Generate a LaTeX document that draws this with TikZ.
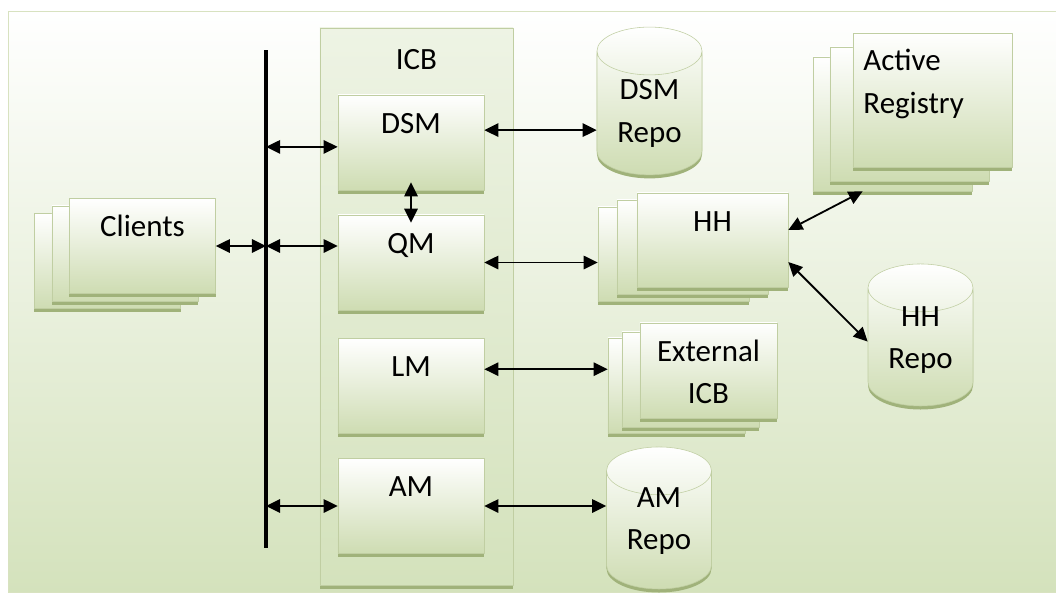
\documentclass[tikz,border=0pt]{standalone}
\usepackage{fontspec}
\setmainfont{Carlito}
\usetikzlibrary{arrows.meta,shadows,shapes.geometric}

\definecolor{boxgreen}{RGB}{206,220,178}
\definecolor{boxline}{RGB}{192,206,162}
\definecolor{shadegreen}{RGB}{160,178,122}
\definecolor{bggreen}{RGB}{212,226,188}
\definecolor{frameline}{RGB}{216,226,192}

\begin{document}
\begin{tikzpicture}[x=0.025cm, y=-0.025cm, line join=round, >={Triangle[length=10pt,width=9.5pt]},
    font=\fontsize{22pt}{30pt}\selectfont,
    module/.style={draw=boxline, top color=white, bottom color=boxgreen,
      minimum width=3.65cm, minimum height=2.375cm, inner ysep=0pt,
      text height=0.95cm, text depth=1.425cm,
      drop shadow={shadow xshift=0pt, shadow yshift=-2.5pt, fill=shadegreen, opacity=1}},
    repo/.style={cylinder, shape border rotate=90, aspect=0.65, draw=boxline,
      top color=white, bottom color=boxgreen, minimum width=2.625cm, minimum height=3.55cm,
      align=center, text depth=0.35cm,
      drop shadow={shadow xshift=0pt, shadow yshift=-2.5pt, fill=shadegreen, opacity=1}},
    conn/.style={<->, line width=1.3pt},
    bus/.style={line width=3pt}]
  \useasboundingbox (0,0) rectangle (1056,594);

  % Background panel
  \draw[frameline, top color=white, bottom color=bggreen] (8,11) rectangle (1062,592);

  % ICB container
  \node[module, minimum width=4.825cm, minimum height=13.925cm, text height=1.05cm,
    text depth=12.875cm, top color=white!60!bggreen, bottom color=bggreen] (icb) at (416.5,306.5) {ICB};

  % Bus
  \coordinate (busT) at (266,50);
  \coordinate (busB) at (266,548);
  \draw[bus] (busT) -- (busB);

  % ICB modules
  \node[module] (dsm) at (411,142.5) {DSM};
  \node[module] (qm) at (411,262.5) {QM};
  \node[module] (lm) at (411,386) {LM};
  \node[module] (am) at (411,506) {AM};

  % Clients stack
  \foreach \i/\dx/\dy in {2/-35/15, 1/-17.5/7.5}
    \node[module] (clients\i) at ({142.5+(\dx)},{246+(\dy)}) {};
  \node[module] (clients) at (142.5,246) {Clients};

  % HH stack
  \foreach \i/\dx/\dy in {2/-39/14, 1/-20/7}
    \node[module, minimum width=3.775cm, minimum height=2.35cm, text depth=1.4cm] (hh\i) at ({712.5+(\dx)},{240+(\dy)}) {};
  \node[module, minimum width=3.775cm, minimum height=2.35cm, text depth=1.4cm] (hh) at (712.5,240) {HH};

  % External ICB stack
  \foreach \i/\dx/\dy in {2/-32/15, 1/-18/9}
    \node[module, minimum width=3.425cm] (ext\i) at ({708.5+(\dx)},{370.5+(\dy)}) {};
  \node[module, minimum width=3.425cm, align=center, text width=2.8cm] (ext) at (708.5,370.5) {External\\ICB};

  % Active Registry stack
  \foreach \i/\dx/\dy in {2/-40/24, 1/-23/14}
    \node[module, minimum width=3.975cm, minimum height=3.35cm, text depth=2.4cm] (ar\i) at ({932.5+(\dx)},{100+(\dy)}) {};
  \node[module, minimum width=3.975cm, minimum height=3.35cm, text depth=2.4cm, align=left,
    text width=3.45cm] (ar) at (932.5,100) {Active\\Registry};

  % Repositories
  \node[repo] (dsmrepo) at (649.5,118) {DSM\\Repo};
  \node[repo, text height=1.18cm] (hhrepo) at (920.5,352) {HH\\Repo};
  \node[repo, text height=1.08cm] (amrepo) at (659,535) {AM\\Repo};

  % Connectors to the bus
  \coordinate (dsmin) at ([yshift=-0.11cm]dsm.west);
  \draw[conn] (clients.east) -- (clients.east -| busT);
  \draw[conn] (busT |- dsmin) -- (dsmin);
  \draw[conn] (busT |- clients.east) -- (clients.east -| qm.west);
  \draw[conn] (busT |- am.west) -- (am.west);
  \draw[conn] ([yshift=0.2cm]dsm.south) -- ([yshift=-0.2cm]qm.north);

  % Connectors to the right
  \coordinate (dsmout) at ([yshift=0.31cm]dsm.east);
  \coordinate (lmout) at ([yshift=0.42cm]lm.east);
  \draw[conn] (dsmout) -- (dsmout -| dsmrepo.west);
  \draw[conn] (qm.east) -- (qm.east -| hh2.west);
  \draw[conn] (lmout) -- (lmout -| ext2.west);
  \draw[conn] (am.east) -- (am.east -| amrepo.west);
  \draw[conn] ([yshift=0.25cm]hh.east) -- ([xshift=1.25cm]ar2.south west);
  \draw[conn] ([yshift=-0.55cm]hh.east) -- ([yshift=0.26cm]hhrepo.west);
\end{tikzpicture}
\end{document}
